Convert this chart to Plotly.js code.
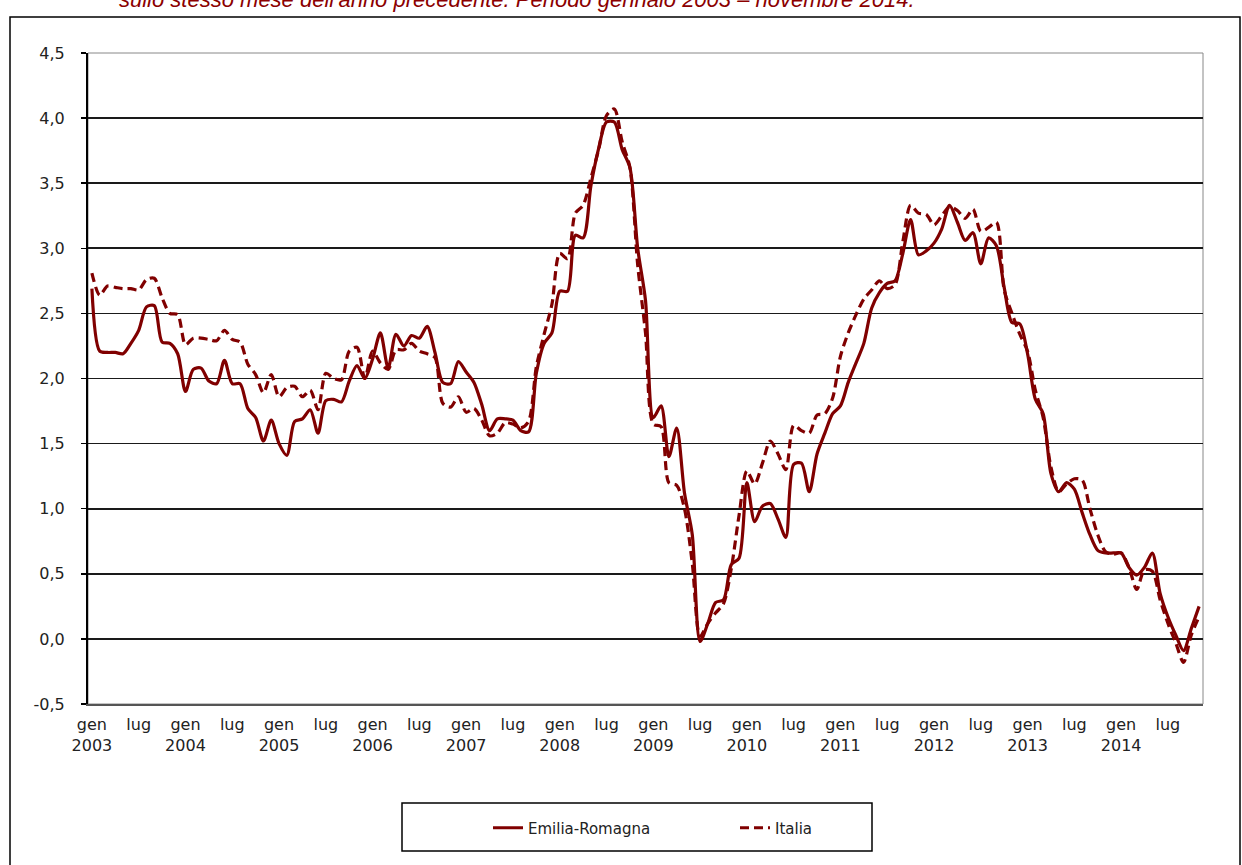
<!DOCTYPE html>
<html>
<head>
<meta charset="utf-8">
<script src="https://cdn.plot.ly/plotly-3.0.1.min.js"></script>
<style>
html,body{margin:0;padding:0;background:#fff;}
#chart{width:1242px;height:865px;}
</style>
</head>
<body>
<div id="chart"></div>
<script>
// ---- data ----
const years = [2003, 2004, 2005, 2006, 2007, 2008, 2009, 2010, 2011, 2012, 2013, 2014];
const monthNames = ['gen','feb','mar','apr','mag','giu','lug','ago','set','ott','nov','dic'];
const lastYearMonths = 11; // gennaio 2003 - novembre 2014
const tickMonths = ['gen', 'lug'];

const yTickVals = [-0.5, 0, 0.5, 1, 1.5, 2, 2.5, 3, 3.5, 4, 4.5];
const yTickText = ['-0,5', '0,0', '0,5', '1,0', '1,5', '2,0', '2,5', '3,0', '3,5', '4,0', '4,5'];

const emiliaRomagna = [
  2.69, 2.21, 2.20, 2.20, 2.19, 2.27, 2.37, 2.55, 2.56, 2.28, 2.27, 2.19,
  1.90, 2.07, 2.08, 1.98, 1.96, 2.14, 1.96, 1.96, 1.77, 1.70, 1.52, 1.68,
  1.50, 1.41, 1.67, 1.69, 1.76, 1.58, 1.83, 1.84, 1.82, 1.98, 2.10, 2.00,
  2.15, 2.35, 2.08, 2.34, 2.25, 2.33, 2.31, 2.40, 2.20, 1.97, 1.96, 2.13,
  2.05, 1.97, 1.80, 1.60, 1.69, 1.69, 1.68, 1.60, 1.59, 2.04, 2.27, 2.35,
  2.67, 2.67, 3.10, 3.08, 3.48, 3.77, 3.97, 3.97, 3.76, 3.62, 3.00, 2.60,
  1.70, 1.79, 1.40, 1.62, 1.12, 0.80, -0.02, 0.12, 0.28, 0.30, 0.57, 0.62,
  1.20, 0.90, 1.02, 1.04, 0.92, 0.78, 1.34, 1.35, 1.13, 1.42, 1.58, 1.73,
  1.79, 1.97, 2.12, 2.27, 2.54, 2.66, 2.73, 2.75, 2.96, 3.22, 2.95, 2.98,
  3.04, 3.15, 3.33, 3.20, 3.06, 3.12, 2.88, 3.08, 3.02, 2.70, 2.43, 2.42,
  2.19, 1.84, 1.73, 1.27, 1.13, 1.20, 1.15, 0.97, 0.80, 0.68, 0.66, 0.66,
  0.66, 0.55, 0.49, 0.55, 0.66, 0.35, 0.17, 0.03, -0.09, 0.08, 0.25
];

const italia = [
  2.81, 2.64, 2.71, 2.70, 2.69, 2.69, 2.68, 2.76, 2.77, 2.62, 2.50, 2.49,
  2.26, 2.31, 2.31, 2.30, 2.29, 2.37, 2.30, 2.28, 2.11, 2.03, 1.89, 2.03,
  1.86, 1.93, 1.94, 1.86, 1.91, 1.76, 2.04, 2.00, 1.99, 2.21, 2.24, 2.00,
  2.21, 2.12, 2.07, 2.22, 2.22, 2.27, 2.21, 2.19, 2.16, 1.81, 1.78, 1.86,
  1.74, 1.77, 1.68, 1.56, 1.58, 1.66, 1.65, 1.62, 1.67, 2.09, 2.34, 2.57,
  2.96, 2.92, 3.27, 3.33, 3.54, 3.76, 4.02, 4.07, 3.82, 3.62, 2.87, 2.35,
  1.65, 1.63, 1.20, 1.18, 1.00, 0.58, 0.02, 0.12, 0.20, 0.27, 0.54, 0.95,
  1.29, 1.19, 1.35, 1.52, 1.42, 1.30, 1.64, 1.60, 1.58, 1.72, 1.73, 1.85,
  2.17, 2.35, 2.49, 2.61, 2.68, 2.75, 2.69, 2.72, 3.05, 3.33, 3.27, 3.26,
  3.18, 3.25, 3.32, 3.29, 3.23, 3.30, 3.13, 3.16, 3.20, 2.68, 2.50, 2.34,
  2.21, 1.91, 1.70, 1.32, 1.13, 1.19, 1.23, 1.22, 1.00, 0.80, 0.67, 0.65,
  0.66, 0.55, 0.38, 0.53, 0.52, 0.30, 0.12, -0.03, -0.18, 0.03, 0.17
];

const titleText = "sullo stesso mese dell'anno precedente. Periodo gennaio 2003 \u2013 novembre 2014.";

// ---- categories & ticks ----
const categories = [];
const tickVals = [];
const tickText = [];
years.forEach(function (y, yi) {
  const n = (yi === years.length - 1) ? lastYearMonths : 12;
  for (let m = 0; m < n; m++) {
    const cat = monthNames[m] + ' ' + y;
    categories.push(cat);
    if (tickMonths.indexOf(monthNames[m]) >= 0) {
      tickVals.push(cat);
      tickText.push(monthNames[m] === 'gen' ? 'gen<br>' + y : monthNames[m]);
    }
  }
});

const red = '#800000';
const traces = [
  {
    x: categories, y: emiliaRomagna, name: 'Emilia-Romagna', type: 'scatter', mode: 'lines',
    line: {color: red, width: 3.2, shape: 'spline', smoothing: 0.8}
  },
  {
    x: categories, y: italia, name: 'Italia', type: 'scatter', mode: 'lines',
    line: {color: red, width: 3.2, dash: '9px,5px', shape: 'spline', smoothing: 0.8}
  }
];

const L = 88, R = 39, T = 53, B = 161, W = 1242, H = 865;
const pw = W - L - R, ph = H - T - B;
function px(x) { return (x - L) / pw; }
function py(y) { return (H - B - y) / ph; }

const FONT = 'DejaVu Sans, Verdana, sans-serif';

const layout = {
  width: W, height: H,
  margin: {l: L, r: R, t: T, b: B, pad: 0},
  paper_bgcolor: '#fff', plot_bgcolor: '#fff',
  font: {family: FONT, size: 16, color: '#222'},
  showlegend: true,
  legend: {
    orientation: 'h', x: px(488), xanchor: 'left', y: py(828), yanchor: 'middle',
    bgcolor: 'rgba(0,0,0,0)', borderwidth: 0,
    font: {family: FONT, size: 15, color: '#222'},
    entrywidth: 202, entrywidthmode: 'pixels', traceorder: 'normal'
  },
  xaxis: {
    type: 'category', categoryorder: 'array', categoryarray: categories,
    tickmode: 'array', tickvals: tickVals, ticktext: tickText,
    showgrid: false, zeroline: false, ticks: '',
    showline: true, linecolor: '#555', linewidth: 2,
    ticklabelstandoff: 5,
    tickfont: {family: FONT, size: 16, color: '#222'},
    range: [-0.5, categories.length - 0.5], fixedrange: true
  },
  yaxis: {
    range: [-0.5, 4.5], tickmode: 'array', tickvals: yTickVals, ticktext: yTickText,
    showgrid: true, gridcolor: '#1a1a1a', gridwidth: 1.7,
    zeroline: false, showline: true, linecolor: '#000', linewidth: 2,
    ticks: 'outside', ticklen: 5, tickcolor: '#000', tickwidth: 1.5,
    ticklabelstandoff: 13,
    tickfont: {family: FONT, size: 16, color: '#222'},
    fixedrange: true
  },
  shapes: [
    {type: 'rect', xref: 'paper', yref: 'paper', x0: 0, x1: 1, y0: 0, y1: 1,
     line: {color: '#888', width: 1}, layer: 'below'},
    {type: 'rect', xref: 'paper', yref: 'paper', x0: px(10), x1: px(1240), y0: py(880), y1: py(17),
     line: {color: '#000', width: 1.5}, layer: 'below'},
    {type: 'rect', xref: 'paper', yref: 'paper', x0: px(402), x1: px(872), y0: py(851), y1: py(803),
     line: {color: '#000', width: 1.5}, fillcolor: '#fff', layer: 'below'}
  ],
  annotations: [
    {text: titleText, xref: 'paper', yref: 'paper', x: px(517), y: 1, xanchor: 'center', yanchor: 'middle',
     yshift: 54, showarrow: false,
     font: {family: 'Liberation Sans, Arial, sans-serif', size: 22, color: '#8B0000', style: 'italic'}}
  ]
};

Plotly.newPlot('chart', traces, layout, {displayModeBar: false, staticPlot: true});
</script>
</body>
</html>
